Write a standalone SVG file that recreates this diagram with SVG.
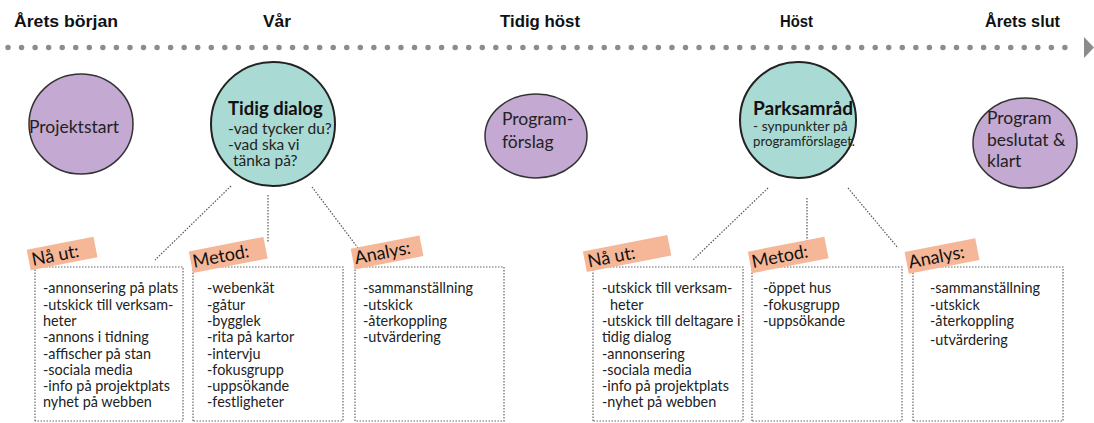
<svg xmlns="http://www.w3.org/2000/svg" width="1094" height="423" viewBox="0 0 1094 423">
<style>
.hdr{font-family:"Liberation Sans",sans-serif;font-weight:bold;font-size:17px;fill:#111}
.ct{font-family:Lato,"Noto Sans",sans-serif;font-size:17.5px;fill:#222}
.cb{font-family:Lato,"Noto Sans",sans-serif;font-size:18.5px;font-weight:bold;fill:#111}
.cs{font-family:Lato,"Noto Sans",sans-serif;font-size:15.5px;fill:#222}
.cs2{font-family:Lato,"Noto Sans",sans-serif;font-size:13.8px;fill:#222}
.bx{font-family:Lato,"Noto Sans",sans-serif;font-size:14.4px;fill:#222}
.tag{fill:#f5b797}
.tt{font-family:Lato,"Noto Sans",sans-serif;font-size:18px;fill:#111}
.purple{fill:#c4a9d2;stroke:#333;stroke-width:1.5}
.teal{fill:#a9dad3;stroke:#222;stroke-width:2}
.box{fill:none;stroke:#666;stroke-width:1.2;stroke-dasharray:1.5 1.5}
.con{fill:none;stroke:#555;stroke-width:1.2;stroke-dasharray:1.5 1.5}
</style>
<rect width="1094" height="423" fill="#fff"/>
<g id="timeline">
<text class="hdr" x="14" y="27" textLength="104" lengthAdjust="spacingAndGlyphs">Årets början</text>
<text class="hdr" x="263" y="27" textLength="28" lengthAdjust="spacingAndGlyphs">Vår</text>
<text class="hdr" x="500" y="27" textLength="80" lengthAdjust="spacingAndGlyphs">Tidig höst</text>
<text class="hdr" x="780" y="27" textLength="33" lengthAdjust="spacingAndGlyphs">Höst</text>
<text class="hdr" x="985" y="27" textLength="75" lengthAdjust="spacingAndGlyphs">Årets slut</text>
<line x1="8" y1="47.5" x2="1078" y2="47.5" stroke="#8c8c8c" stroke-width="5.5" stroke-linecap="round" stroke-dasharray="0 13.55"/>
<polygon points="1084,37 1094,47.5 1084,58" fill="#8c8c8c"/>
</g>
<g id="connectors">
<line class="con" x1="231" y1="186" x2="155" y2="260"/>
<line class="con" x1="268" y1="195" x2="268" y2="243"/>
<line class="con" x1="312" y1="187" x2="358" y2="248"/>
<line class="con" x1="768" y1="188" x2="693" y2="260"/>
<line class="con" x1="807" y1="198" x2="807" y2="243"/>
<line class="con" x1="848" y1="188" x2="898" y2="248"/>
</g>
<g id="projektstart">
<ellipse class="purple" cx="81" cy="124" rx="52" ry="50"/>
<text class="ct" x="29" y="133">Projektstart</text>
</g>
<g id="tidig-dialog">
<circle class="teal" cx="273" cy="124" r="62"/>
<text class="cb" x="228" y="115">Tidig dialog</text>
<text class="cs" x="228" y="134">-vad tycker du?</text>
<text class="cs" x="228" y="150">-vad ska vi</text>
<text class="cs" x="233" y="166">tänka på?</text>
</g>
<g id="programforslag">
<ellipse class="purple" cx="536" cy="136" rx="51" ry="42"/>
<text class="ct" x="502" y="125">Program-</text>
<text class="ct" x="502" y="148">förslag</text>
</g>
<g id="parksamrad">
<circle class="teal" cx="798" cy="120" r="58"/>
<text class="cb" x="753" y="115" textLength="100" lengthAdjust="spacingAndGlyphs">Parksamråd</text>
<text class="cs2" x="753" y="131">- synpunkter på</text>
<text class="cs2" x="753" y="146" textLength="102" lengthAdjust="spacingAndGlyphs">programförslaget.</text>
</g>
<g id="program-beslutat">
<ellipse class="purple" cx="1025" cy="143" rx="52" ry="45"/>
<text class="ct" x="987" y="124" font-size="18.5">Program</text>
<text class="ct" x="987" y="146" font-size="18.5">beslutat &amp;</text>
<text class="ct" x="987" y="167" font-size="18.5">klart</text>
</g>
<g id="na-ut-1">
<path class="box" d="M35,421 V267 H183 V421 H35"/>
<g transform="rotate(-11 62 253)"><rect class="tag" x="28" y="243" width="68" height="21"/><text class="tt" x="31" y="260">Nå ut:</text></g>
<text class="bx" x="43" y="293">-annonsering på plats</text>
<text class="bx" x="43" y="309.5">-utskick till verksam-</text>
<text class="bx" x="43" y="326">heter</text>
<text class="bx" x="43" y="342">-annons i tidning</text>
<text class="bx" x="43" y="358.5">-affischer på stan</text>
<text class="bx" x="43" y="374.5">-sociala media</text>
<text class="bx" x="43" y="391">-info på projektplats</text>
<text class="bx" x="43" y="407">nyhet på webben</text>
</g>
<g id="metod-1">
<path class="box" d="M193,421 V267 H343 V421 H193"/>
<g transform="rotate(-11 228 254)"><rect class="tag" x="190" y="244" width="76" height="22"/><text class="tt" x="192" y="261">Metod:</text></g>
<text class="bx" x="207" y="293">-webenkät</text>
<text class="bx" x="207" y="309.5">-gåtur</text>
<text class="bx" x="207" y="326">-bygglek</text>
<text class="bx" x="207" y="342">-rita på kartor</text>
<text class="bx" x="207" y="358.5">-intervju</text>
<text class="bx" x="207" y="374.5">-fokusgrupp</text>
<text class="bx" x="207" y="391">-uppsökande</text>
<text class="bx" x="207" y="407">-festligheter</text>
</g>
<g id="analys-1">
<path class="box" d="M355,421 V267 H504 V421 H355"/>
<g transform="rotate(-11 387 252)"><rect class="tag" x="352" y="242" width="70" height="21"/><text class="tt" x="354" y="258">Analys:</text></g>
<text class="bx" x="363" y="293">-sammanställning</text>
<text class="bx" x="363" y="309.5">-utskick</text>
<text class="bx" x="363" y="326">-återkoppling</text>
<text class="bx" x="363" y="342">-utvärdering</text>
</g>
<g id="na-ut-2">
<path class="box" d="M593,421 V267 H743 V421 H593"/>
<g transform="rotate(-11 627 253)"><rect class="tag" x="584" y="243" width="86" height="21"/><text class="tt" x="587" y="260">Nå ut:</text></g>
<text class="bx" x="602" y="293">-utskick till verksam-</text>
<text class="bx" x="610" y="309.5">heter</text>
<text class="bx" x="602" y="326">-utskick till deltagare i</text>
<text class="bx" x="602" y="342">tidig dialog</text>
<text class="bx" x="602" y="358.5">-annonsering</text>
<text class="bx" x="602" y="374.5">-sociala media</text>
<text class="bx" x="602" y="391">-info på projektplats</text>
<text class="bx" x="602" y="407">-nyhet på webben</text>
</g>
<g id="metod-2">
<path class="box" d="M752,421 V267 H902 V421 H752"/>
<g transform="rotate(-11 788 254)"><rect class="tag" x="749" y="244" width="78" height="22"/><text class="tt" x="751" y="261">Metod:</text></g>
<text class="bx" x="763" y="293">-öppet hus</text>
<text class="bx" x="763" y="309.5">-fokusgrupp</text>
<text class="bx" x="763" y="326">-uppsökande</text>
</g>
<g id="analys-2">
<path class="box" d="M913,421 V267 H1063 V421 H913"/>
<g transform="rotate(-11 942 256)"><rect class="tag" x="906" y="245" width="72" height="22"/><text class="tt" x="908" y="262">Analys:</text></g>
<text class="bx" x="930" y="293">-sammanställning</text>
<text class="bx" x="930" y="309.5">-utskick</text>
<text class="bx" x="930" y="326">-återkoppling</text>
<text class="bx" x="930" y="345">-utvärdering</text>
</g>
</svg>
